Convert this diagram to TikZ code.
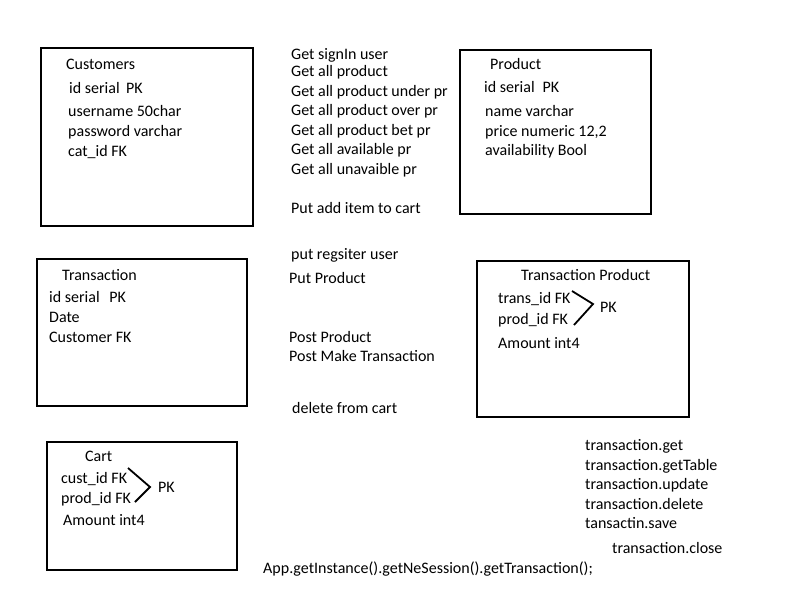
\documentclass[tikz,border=0pt]{standalone}
\usepackage{fontspec}
\setmainfont{Carlito}
\begin{document}
\begin{tikzpicture}[x=1pt,y=-1pt,
  box/.style={draw=black,line width=1.8pt,inner sep=0pt},
  txt/.style={anchor=base west,inner sep=0pt,font=\fontsize{16}{19}\selectfont},
  brk/.style={line width=1.8pt}]
\useasboundingbox (0,0) rectangle (800,600);
% boxes
\node[box,minimum width=212pt,minimum height=178pt] (cust) at (147,137) {};
\node[box,minimum width=191pt,minimum height=164pt] (prod) at (555.5,132) {};
\node[box,minimum width=210pt,minimum height=147pt] (trans) at (142,332.5) {};
\node[box,minimum width=212pt,minimum height=156pt] (tprod) at (583,339) {};
\node[box,minimum width=190pt,minimum height=128pt] (cart) at (142,506) {};
% Customers
\node[txt] (c0) at (66,69) {Customers};
\node[txt] (c1) at (69,93) {id serial\hspace{0.4em}PK};
\node[txt] (c2) at (68,116) {username 50char};
\node[txt] (c3) at (68,136) {password varchar};
\node[txt] (c4) at (68,156) {cat\_id FK};
% Product
\node[txt] (p0) at (490,69) {Product};
\node[txt] (p1) at (484,92) {id serial\hspace{0.5em}PK};
\node[txt] (p2) at (485,116) {name varchar};
\node[txt] (p3) at (485,136) {price numeric 12,2};
\node[txt] (p4) at (485,155) {availability Bool};
% Transaction
\node[txt] (t0) at (62,280) {Transaction};
\node[txt] (t1) at (49,302) {id serial\hspace{0.6em}PK};
\node[txt] (t2) at (49,322) {Date};
\node[txt] (t3) at (49,342) {Customer FK};
% Transaction Product
\node[txt] (tp0) at (521,280) {Transaction Product};
\node[txt] (tp1) at (498,303) {trans\_id FK};
\node[txt] (tp2) at (498,324) {prod\_id FK};
\node[txt] (tp3) at (600,312) {PK};
\node[txt] (tp4) at (498,348) {Amount int4};
\draw[brk] (572,291) -- (593,304) -- (574,325);
% Cart
\node[txt] (k0) at (85,461) {Cart};
\node[txt] (k1) at (61,483) {cust\_id FK};
\node[txt] (k2) at (61,503) {prod\_id FK};
\node[txt] (k3) at (158,492) {PK};
\node[txt] (k4) at (63,525) {Amount int4};
\draw[brk] (128,468) -- (150,487) -- (135,502);
% middle
\node[txt] (m1) at (291,59) {Get signIn user};
\node[txt] (m2) at (291,76) {Get all product};
\node[txt] (m3) at (291,96) {Get all product under pr};
\node[txt] (m4) at (291,115) {Get all product over pr};
\node[txt] (m5) at (291,135) {Get all product bet pr};
\node[txt] (m6) at (291,154) {Get all available pr};
\node[txt] (m7) at (291,174) {Get all unavaible pr};
\node[txt] (m8) at (291,213) {Put add item to cart};
\node[txt] (m9) at (291,259) {put regsiter user};
\node[txt] (m10) at (289,283) {Put Product};
\node[txt] (m11) at (289,342) {Post Product};
\node[txt] (m12) at (289,361) {Post Make Transaction};
\node[txt] (m13) at (292,413) {delete from cart};
% bottom right
\node[txt] (r1) at (585,450) {transaction.get};
\node[txt] (r2) at (585,470) {transaction.getTable};
\node[txt] (r3) at (585,489) {transaction.update};
\node[txt] (r4) at (585,509) {transaction.delete};
\node[txt] (r5) at (585,528) {tansactin.save};
\node[txt] (r6) at (612,553) {transaction.close};
\node[txt] (r7) at (263,573) {App.getInstance().getNeSession().getTransaction();};
\end{tikzpicture}
\end{document}
